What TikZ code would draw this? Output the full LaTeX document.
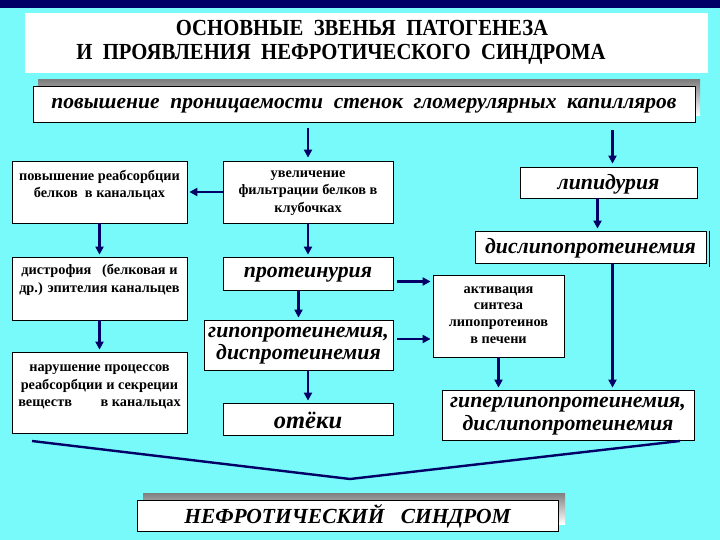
\documentclass[tikz,border=0pt]{standalone}
\usepackage{fontspec}
\setmainfont{Liberation Serif}
\usetikzlibrary{arrows.meta,calc}
\definecolor{bgcyan}{RGB}{120,250,250}
\definecolor{navy}{RGB}{0,0,102}
\definecolor{shade}{RGB}{128,128,128}
\begin{document}
\begin{tikzpicture}[x=1pt,y=-1pt,
  box/.style={draw=black, line width=0.8pt, fill=white, inner sep=0pt},
  arr/.style={draw=navy, line width=2.4pt, -{Triangle[length=8pt,width=8pt]}},
  small/.style={font=\fontsize{14.3}{17.5}\selectfont\bfseries, align=center, inner sep=0pt},
  big/.style={font=\fontsize{21.8}{22.5}\selectfont\bfseries\itshape, align=center, inner sep=0pt},
  ttl/.style={font=\fontsize{23}{24}\selectfont\bfseries, inner sep=0pt}]
\useasboundingbox (0,0) rectangle (720,540);
\fill[bgcyan] (0,0) rectangle (720,540);
\fill[navy] (0,0) rectangle (720,8);
\fill[white] (25,13) rectangle (708,73);
\node[ttl] (t1) at (362,28) {\scalebox{0.9}[1]{ОСНОВНЫЕ\ \ ЗВЕНЬЯ\ \ ПАТОГЕНЕЗА}};
\node[ttl] (t2) at (341,54) {\scalebox{0.9}[1]{И\ \ ПРОЯВЛЕНИЯ\ \ НЕФРОТИЧЕСКОГО\ \ СИНДРОМА}};
% top box
\fill[shade] (38,80) rectangle (700,116);
\node[box, minimum width=662pt, minimum height=36pt] (top) at (364,104) {};
\node[big, font=\fontsize{21.5}{22}\selectfont\bfseries\itshape] (ttop) at (364,106) {повышение\ \ проницаемости\ \ стенок\ \ гломерулярных\ \ капилляров};
% left column
\node[box, minimum width=175pt, minimum height=62pt] (A) at (99.5,192) {};
\node[small] (tA) at (99.5,185) {повышение реабсорбции\\белков\ \ в канальцах};
\node[box, minimum width=175pt, minimum height=63pt] (C) at (99.5,288.5) {};
\node[small] (tC) at (99.5,280) {дистрофия\ \ \ (белковая и\\др.) эпителия канальцев};
\node[box, minimum width=175pt, minimum height=81pt] (D) at (99.5,392.5) {};
\node[small] (tD) at (99.5,387) {нарушение процессов\\реабсорбции и секреции\\веществ\hspace{2em}в канальцах};
% middle column
\node[box, minimum width=170pt, minimum height=62pt] (B) at (308,192) {};
\node[small] (tB) at (308,193) {увеличение\\фильтрации белков в\\клубочках};
\node[box, minimum width=170pt, minimum height=33pt] (E) at (308,273.5) {};
\node[big] (tE) at (308,275) {протеинурия};
\node[box, minimum width=189pt, minimum height=50pt] (F) at (298.5,345) {};
\node[big] (tF) at (298.5,345.5) {гипопротеинемия,\\диспротеинемия};
\node[box, minimum width=170pt, minimum height=32pt] (G) at (308,419) {};
\node[big, font=\fontsize{24.5}{25}\selectfont\bfseries\itshape] (tG) at (308,420) {отёки};
% right column
\node[box, minimum width=131pt, minimum height=82pt] (H) at (498.5,316) {};
\node[small, font=\fontsize{14.3}{16.8}\selectfont\bfseries] (tH) at (498.5,315) {активация\\синтеза\\липопротеинов\\в печени};
\node[box, minimum width=177pt, minimum height=31pt] (L) at (608.5,182.5) {};
\node[big] (tL) at (608.5,184) {липидурия};
\node[box, minimum width=231pt, minimum height=32pt] (M) at (590.5,247) {};
\node[big] (tM) at (590.5,248.5) {дислипопротеинемия};
\draw[line width=0.8pt] ([xshift=3pt]M.north east) -- ([xshift=3pt,yshift=-4pt]M.south east);
\node[box, minimum width=252pt, minimum height=50pt] (N) at (568,415) {};
\node[big] (tN) at (568,416) {гиперлипопротеинемия,\\дислипопротеинемия};
% bottom
\fill[shade] (143,493) rectangle (565,524);
\node[box, minimum width=421pt, minimum height=31pt] (S) at (347.5,515.5) {};
\node[big, font=\fontsize{21.5}{24}\selectfont\bfseries\itshape] (tS) at (347.5,516) {НЕФРОТИЧЕСКИЙ\ \ \ СИНДРОМ};
% helper coordinates
\coordinate (eOut) at ([yshift=-8pt]E.east);
\coordinate (fOut) at ([yshift=6pt]F.east);
\coordinate (lOut) at ([xshift=-11pt]L.south);
\coordinate (mOut) at ([xshift=22pt]M.south);
\coordinate (topL) at ([xshift=4pt]L.north);
% arrows
\draw[arr, shorten <=6pt, shorten >=3pt] (top.south -| B.north) -- (B.north);
\draw[arr, shorten <=8pt, shorten >=3pt] (top.south -| topL) -- (topL);
\draw[arr, shorten >=2pt] (B.west) -- (A.east);
\draw[arr, shorten >=2pt] (A.south) -- (C.north);
\draw[arr, shorten >=2pt] (C.south) -- (D.north);
\draw[arr, shorten >=2pt] (B.south) -- (E.north);
\draw[arr, shorten >=2pt] (E.south -| F.north) -- (F.north);
\draw[arr, shorten >=2pt] (F.south -| G.north) -- (G.north);
\draw[arr, shorten <=4pt, shorten >=2pt] (eOut) -- (H.west |- eOut);
\draw[arr, shorten <=4pt, shorten >=2pt] (fOut) -- (H.west |- fOut);
\draw[arr, shorten >=2pt] (lOut) -- (M.north -| lOut);
\draw[arr, shorten >=2pt] (H.south) -- (N.north -| H.south);
\draw[arr, shorten >=2pt] (mOut) -- (N.north -| mOut);
% convergence line
\coordinate (v1) at (32,441);
\coordinate (v2) at (350,479);
\coordinate (v3) at (680,441);
\draw[navy, line width=2.4pt] (v1) -- (v2) -- (v3);
\end{tikzpicture}
\end{document}
